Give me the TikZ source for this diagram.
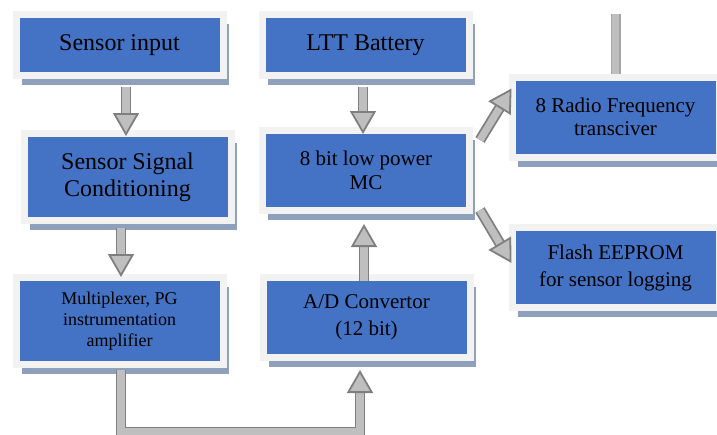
\documentclass[tikz,border=0pt]{standalone}
\usepackage{fontspec}
\setmainfont{Liberation Serif}
\usetikzlibrary{positioning,calc,shadows,arrows.meta}
\definecolor{boxblue}{HTML}{4472C4}
\definecolor{framegray}{HTML}{F2F2F2}
\definecolor{shadowblue}{HTML}{8EA0BC}
\definecolor{arrowfill}{HTML}{BFBFBF}
\definecolor{arrowedge}{HTML}{7F7F7F}

\begin{document}
\begin{tikzpicture}[
    x=0.5pt, y=-0.5pt,
    blockbox/.style={rectangle, fill=boxblue, draw=framegray, line width=3.5pt,
                align=center, minimum width=103.5pt, font=\fontsize{12}{13.5}\selectfont,
                drop shadow={shadow xshift=2.75pt, shadow yshift=-4.75pt, fill=shadowblue, opacity=1}},
    bigarrow/.style={draw=arrowedge, line width=0.9pt, double=arrowfill, double distance=3.6pt,
                -{Triangle[width=13pt, length=11.5pt, fill=arrowfill]}},
    barline/.style={draw=arrowedge!70, line width=0.7pt, double=arrowfill, double distance=3.6pt}
]
\useasboundingbox (0,0) rectangle (717,434);
\clip (0,0) rectangle (717,434);
\node[blockbox, minimum height=30.5pt] (sensor) at (119.5,45) {Sensor input};
\node[blockbox, minimum height=43.5pt] (ssc) at (127.5,177) {Sensor Signal\\Conditioning};
\node[blockbox, minimum height=43.5pt, font=\fontsize{9}{10.5}\selectfont] (mux) at (119.5,321) {Multiplexer, PG\\instrumentation\\amplifier};
\node[blockbox, minimum height=30.5pt] (ltt) at (365.5,45) {LTT Battery};
\node[blockbox, minimum height=40pt, font=\fontsize{10.5}{12}\selectfont] (mc) at (366,170.5) {8 bit low power\\MC};
\node[blockbox, minimum height=40pt, font=\fontsize{10.5}{13.5}\selectfont] (adc) at (366.5,317.5) {A/D Convertor\\(12 bit)};
\node[blockbox, minimum height=40pt, font=\fontsize{10.5}{11.5}\selectfont] (rf) at (615.5,117) {8 Radio Frequency\\transciver};
\node[blockbox, minimum height=40pt, font=\fontsize{10.5}{13.5}\selectfont] (flash) at (615.5,267.5) {Flash EEPROM\\for sensor logging};
\coordinate (bot) at (240,432);
\coordinate (antenna) at (615.5,14);
\draw[bigarrow] ($(sensor.south)+(6.5,8)$) -- ($(ssc.north)+(-1.5,6)$);
\draw[bigarrow] ($(ssc.south)+(-6.5,4)$) -- ($(mux.north)+(1.5,3)$);
\draw[bigarrow] ($(ltt.south)+(-2.5,8)$) -- ($(mc.north)+(-3,7)$);
\draw[bigarrow] ($(adc.north)+(-2.5,7)$) -- ($(mc.south)+(-2,10)$);
\draw[bigarrow] ($(mux.south)+(1.5,2)$) |- (bot) -| ($(adc.south)+(-6.5,9)$);
\draw[bigarrow] ($(mc.north east)+(7,13)$) -- ($(rf.north west)+(3,15)$);
\draw[bigarrow] ($(mc.south east)+(7,-4)$) -- ($(flash.west)+(3,-4.5)$);
\draw[barline] (antenna) -- (rf.north);
\end{tikzpicture}
\end{document}
